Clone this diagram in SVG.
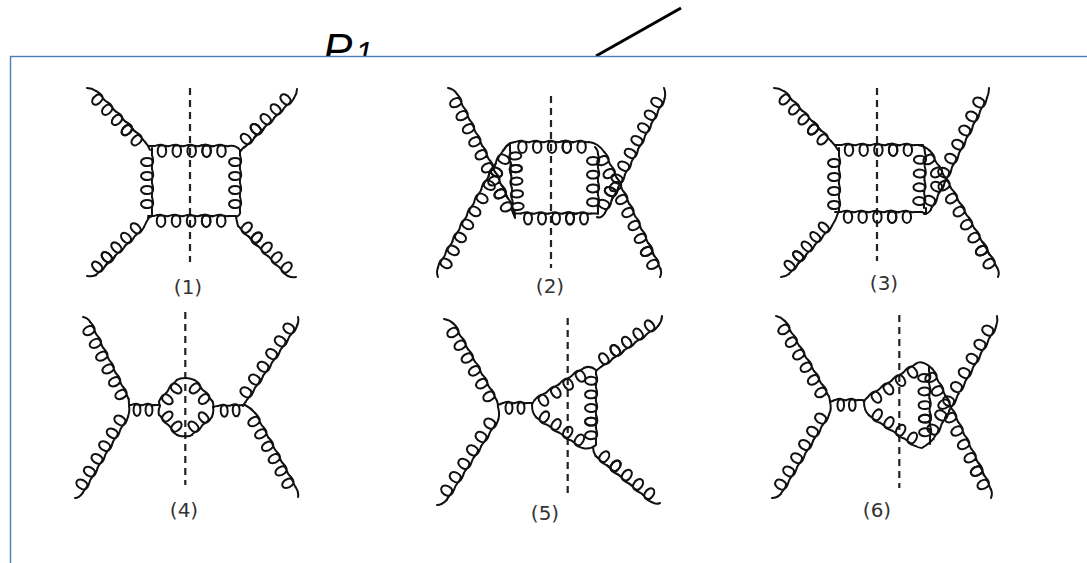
<svg xmlns="http://www.w3.org/2000/svg" width="1087" height="563" viewBox="0 0 1087 563">
<style>
.g{fill:none;stroke:#111;stroke-width:2;stroke-linecap:round;stroke-linejoin:round;vector-effect:non-scaling-stroke}
.cut{fill:none;stroke:#222;stroke-width:2.2;stroke-dasharray:7 5}
.lab{font-family:"DejaVu Sans",sans-serif;font-size:20px;fill:#333;text-anchor:middle}
</style>
<defs>
<path id="g2" class="g" d="M0 0c4 -1 11 -3 12.3 2.5c1.2 5 -1.3 8.5 -4.3 8.5c-3 0 -5.5 -3.5 -4.3 -8.5c1.3 -5.5 8.3 -1.5 12.3 -2.5c4 -1 11 -3 12.3 2.5c1.2 5 -1.3 8.5 -4.3 8.5c-3 0 -5.5 -3.5 -4.3 -8.5c1.3 -5.5 8.3 -1.5 12.3 -2.5"/>
<g id="g4"><use href="#g2"/><use href="#g2" transform="translate(32 0)"/></g>
<g id="g5"><use href="#g4"/><use href="#g2" transform="translate(48 0)"/></g>
<g id="g6"><use href="#g4"/><use href="#g2" transform="translate(64 0)"/></g>
<g id="g8"><use href="#g4"/><use href="#g4" transform="translate(64 0)"/></g>
<g id="g9"><use href="#g8"/><use href="#g2" transform="translate(112 0)"/></g>
</defs>
<text x="323" y="65" font-family="Liberation Sans, sans-serif" font-style="italic" font-size="44" fill="#000">P<tspan font-size="32" dx="3" dy="-1">1</tspan></text>
<line x1="681" y1="8" x2="596" y2="56" stroke="#000" stroke-width="3"/>
<rect x="10.5" y="56.5" width="1100" height="540" fill="#fff" stroke="#4a7ebb" stroke-width="1.4"/>

<g id="diagram1">
<line class="cut" x1="190" y1="88" x2="190" y2="262"/>
<g id="connectors1">
<use href="#g5" transform="translate(154.5 146) scale(.93 1)"/>
<use href="#g5" transform="translate(153.5 216) scale(.94 1)"/>
<use href="#g4" transform="translate(152 155) rotate(90) scale(.875 1)"/>
<use href="#g4" transform="translate(240 155) rotate(90) scale(.875 1)"/>
<use href="#g5" transform="translate(96 91) rotate(46) scale(.884 1)"/>
<use href="#g5" transform="translate(294 98) rotate(135) scale(.875 1)"/>
<use href="#g5" transform="translate(144 227) rotate(135) scale(.85 1)"/>
<use href="#g5" transform="translate(288 276) rotate(225) scale(.88 1)"/>
<path class="g" d="M87 88Q92 88 96 91M145 142Q148 145 150 150M297 89Q297 94 294 98M244 147Q242 149 240 152M144 227Q146 222 150 216M96 275Q92 277 87 276M296 277Q292 278 288 276M238 226Q237 222 236 217M148 146H154.5M229 146Q236 145 240 150V155M152 148V155M152 211V216L148 218M153.5 216H148M228.5 216H236M240 211Q241 215 236 217"/>
</g>
<text class="lab" x="188" y="294">(1)</text>
</g>

<g id="diagram2">
<line class="cut" x1="551" y1="96" x2="551" y2="268"/>
<g id="connectors2">
<use href="#g5" transform="translate(515 142) scale(.925 1)"/>
<use href="#g5" transform="translate(521 213.5) scale(.875 1)"/>
<use href="#g5" transform="translate(513 213) rotate(-92.7) scale(.79 1)"/>
<use href="#g4" transform="translate(598 154) rotate(90) scale(.86 1)"/>
<use href="#g9" transform="translate(457 94) rotate(64) scale(.906 1)"/>
<use href="#g9" transform="translate(438 267.5) rotate(-61) scale(.93 1)"/>
<use href="#g9" transform="translate(664.6 98.4) rotate(117.5) scale(.897 1)"/>
<use href="#g9" transform="translate(604.3 152) rotate(64.3) scale(.9 1)"/>
<path class="g" d="M448 88Q454 89 457 94M514.6 211Q515 215 515 218M438 277Q436 272 438 267.5M503.4 150.7Q507 143 515 142M664 88Q666 93 664.6 98.4M605 213Q601 219 597 217M589 142Q598 143 604.3 152M660.5 269Q662 273 660 277M510 150V143M513 213L515 218M515 213.5H521M591 213.5H598M595 147Q598 150 598 154M598 209V214"/>
</g>
<text class="lab" x="550" y="293">(2)</text>
</g>

<g id="diagram3">
<line class="cut" x1="877" y1="88" x2="877" y2="261"/>
<g id="connectors3">
<use href="#g5" transform="translate(841.6 145) scale(.92 1)"/>
<use href="#g5" transform="translate(840.6 212) scale(.92 1)"/>
<use href="#g4" transform="translate(839 156) rotate(90) scale(.875 1)"/>
<use href="#g4" transform="translate(925 153) rotate(91) scale(.86 1)"/>
<use href="#g5" transform="translate(783.5 91) rotate(46.5) scale(.86 1)"/>
<use href="#g5" transform="translate(831.8 226) rotate(131.8) scale(.8 1)"/>
<use href="#g8" transform="translate(986.9 97.7) rotate(116.6) scale(.98 1)"/>
<use href="#g9" transform="translate(929.5 150.5) rotate(60) scale(.94 1)"/>
<path class="g" d="M774 88Q779 88 783.5 91M831 141Q835 145 838 150M838 213Q836 220 831.8 226M789 274Q785 277 781 277M989 88Q989 93 987 98M931 209.7Q928 214 924 214M918 145Q925 146 929.5 150.5M997 267.5Q1000 272 998 277M835 145H841.6M915.4 145H923Q925 149 925 153M839 148V156M839 212V208M835 212H840.6M914.4 212H922L926 214V208"/>
</g>
<text class="lab" x="884" y="290">(3)</text>
</g>

<g id="diagram4">
<line class="cut" x1="185.3" y1="312" x2="185.3" y2="485"/>
<g id="connectors4">
<use href="#g6" transform="translate(90.2 322) rotate(63.4) scale(.894 1)"/>
<use href="#g6" transform="translate(128 416.6) rotate(120.7) scale(.93 1)"/>
<use href="#g6" transform="translate(297.3 325) rotate(123.9) scale(.96 1)"/>
<use href="#g6" transform="translate(255 413) rotate(61.3) scale(.88 1)"/>
<use href="#g2" transform="translate(131 405) scale(.75 1)"/>
<use href="#g2" transform="translate(218 406) rotate(-2) scale(.75 1)"/>
<use href="#g2" transform="translate(159 401.6) rotate(-50.7) scale(.875 1)"/>
<use href="#g2" transform="translate(194.2 379.8) rotate(49.6) scale(.875 1)"/>
<use href="#g2" transform="translate(212 416.7) rotate(138) scale(.85 1)"/>
<use href="#g2" transform="translate(177.3 435) rotate(-132) scale(.85 1)"/>
<path class="g" d="M83 317Q88 318 90.2 322M128.6 398.7Q129 401 129 405M129 406Q130 411 128 416.6M82.4 493.4Q79 498 75 498M298 317Q299 321 297.3 325M245.7 401.7Q244 404 243 406M245 405Q251 408 255 413M295.7 487.3Q299 492 298 497M129 405H131M155 405H160M213 408Q214 406 218 406M242 405H245M160 406Q159 404 159 401.6M176.8 379.8Q180 378 185 378Q190 378 194.2 379.8M212 400.6Q214 403 213 407Q214 412 212 416.7M191.8 435Q189 437 185 436Q181 437 177.3 435M158.9 414.8Q158 410 160 406"/>
</g>
<text class="lab" x="184" y="517">(4)</text>
</g>

<g id="diagram5">
<line class="cut" x1="567.7" y1="318" x2="567.7" y2="493"/>
<g id="connectors5">
<use href="#g6" transform="translate(453.6 323.7) rotate(60.6) scale(.917 1)"/>
<use href="#g6" transform="translate(498.3 419.5) rotate(122.7) scale(.996 1)"/>
<use href="#g2" transform="translate(503 403) scale(.75 1)"/>
<use href="#g4" transform="translate(534.6 400) rotate(-33) scale(.92 1)"/>
<use href="#g4" transform="translate(582.5 448) rotate(213.4) scale(.873 1)"/>
<use href="#g5" transform="translate(596 374) rotate(90) scale(.85 1)"/>
<use href="#g5" transform="translate(658.2 325.8) rotate(144.3) scale(.88 1)"/>
<use href="#g5" transform="translate(651.8 502.2) rotate(219.4) scale(.91 1)"/>
<path class="g" d="M444 319Q450 320 453.6 323.7M496.8 400.5Q498 403 498 407M498 407Q500 414 498.3 419.5M446.7 500Q442 505 437 505M498 405L503 403M527 403H532V405M532 405Q533 402 534.6 400M584 368Q590 365 596 370V374M596 445Q590 450 582.5 448M536 417Q532 413 532 405M596 442V445M662 316Q662 321 658.2 325.8M600.8 367Q598 369 596 371M660 503Q656 505 651.8 502.2M595.6 456Q593 452 593 447"/>
</g>
<text class="lab" x="545" y="520">(5)</text>
</g>

<g id="diagram6">
<line class="cut" x1="899.3" y1="315" x2="899.3" y2="488"/>
<g id="connectors6">
<use href="#g6" transform="translate(784.5 320.7) rotate(59.6) scale(.913 1)"/>
<use href="#g6" transform="translate(829 414.5) rotate(121.2) scale(.965 1)"/>
<use href="#g2" transform="translate(835 400) scale(.72 1)"/>
<use href="#g4" transform="translate(867.6 397.3) rotate(-34.8) scale(.914 1)"/>
<use href="#g4" transform="translate(915.5 446) rotate(213.3) scale(.875 1)"/>
<use href="#g5" transform="translate(929 371) rotate(89) scale(.85 1)"/>
<use href="#g8" transform="translate(996.2 325.9) rotate(119) scale(1.01 1)"/>
<use href="#g9" transform="translate(932.2 368.7) rotate(64) scale(.93 1)"/>
<path class="g" d="M776 316Q781 317 784.5 320.7M828.9 396.3Q830 399 830 402M830 402Q832 409 829 414.5M781 493.7Q777 498 772 498M830 402L835 400M858 400H863L864 402M864 402Q865 399 867.6 397.3M915.6 363.9Q922 359 932.2 368.7M922 448Q919 448 915.5 446M868.9 415Q864 411 864 402M997 316Q998 321 996.2 325.9M933.4 438.9Q930 443 922 448M990.6 489Q993 493 991 498M929 367V371M930 439V444"/>
</g>
<text class="lab" x="877" y="517">(6)</text>
</g>
</svg>
